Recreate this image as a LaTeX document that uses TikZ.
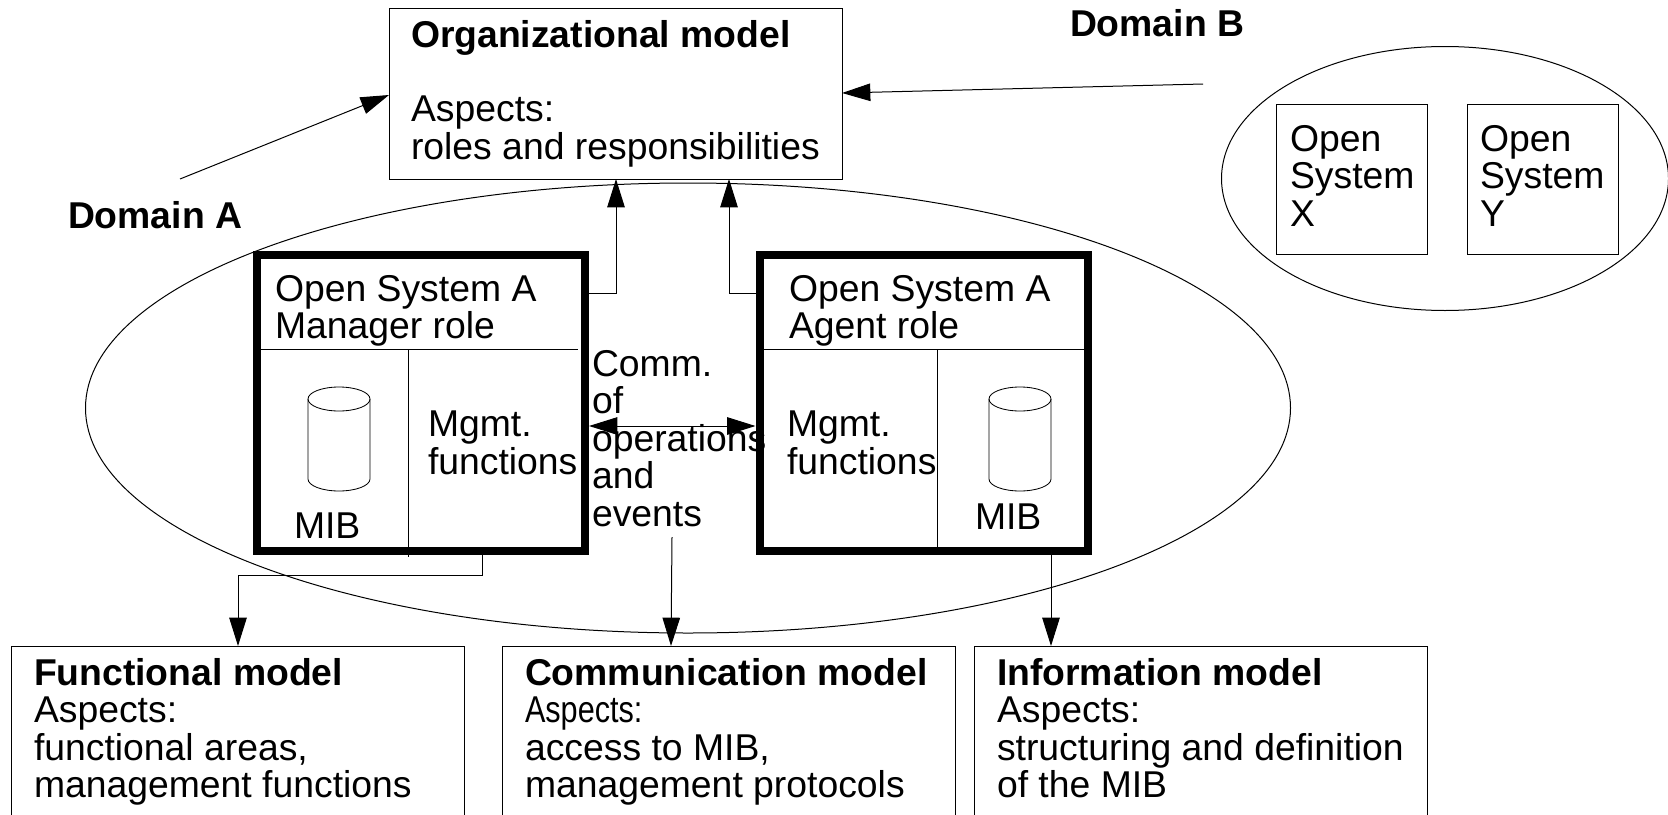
\documentclass[tikz,border=0pt]{standalone}
\usepackage{fontspec}
\setmainfont{Liberation Sans}
\usetikzlibrary{arrows.meta,shapes.geometric}
\def\u{0.6pt}
\tikzset{
    >={Triangle[length=17pt,width=10.5pt]},
    every path/.style={line width=0.6pt},
    box/.style={rectangle, draw, inner sep=0pt, outer sep=0pt},
    rolebox/.style={rectangle, draw, line width=4.8pt, inner sep=0pt, minimum width=328*\u, minimum height=296*\u},
    osbox/.style={box, minimum width=151*\u, minimum height=150*\u},
    modelbox/.style={box, minimum width=453*\u, minimum height=184*\u},
    domainoval/.style={ellipse, draw, inner sep=0pt, outer sep=0pt},
    mibcyl/.pic={
        \draw[line width=0.5pt] (0,-40) ellipse (31 and 12);
        \draw[line width=0.5pt] (-31,-40) -- (-31,40) arc (180:0:31 and 12) -- (31,-40);
    },
    txt/.style={anchor=north west, inner sep=0pt, outer sep=0pt, align=left, font=\fontsize{22.4}{22.5}\selectfont},
}
\begin{document}
\begin{tikzpicture}[x=\u, y=-\u]
    \useasboundingbox (0,0) rectangle (1668,814);
    % domains
    \node(doma) [domainoval, minimum width=1205*\u, minimum height=450*\u] at (688,408) {};
    \node(domb) [domainoval, minimum width=447*\u, minimum height=264*\u] at (1445,178.5) {};
    \node(domatxt) [txt] at (68,201) {\bfseries Domain A};
    \node(dombtxt) [txt] at (1070,9) {\bfseries Domain B};
    % models
    \node(org) [box, minimum width=453*\u, minimum height=171*\u] at (615.5,93.5) {};
    \node(func) [modelbox] at (237.5,738) {};
    \node(comm) [modelbox] at (729,738) {};
    \node(info) [modelbox] at (1201,738) {};
    \node(orgtxt) [txt] at (411,20) {\bfseries Organizational model\\[22.3pt]Aspects:\\roles and responsibilities};
    \node(functxt) [txt] at (34,658) {\bfseries Functional model\\Aspects:\\functional areas,\\management functions};
    \node(commtxt) [txt] at (525,658) {\bfseries Communication model\\\scalebox{0.82}[1]{Aspects:}\\access to MIB,\\management protocols};
    \node(infotxt) [txt] at (997,658) {\bfseries Information model\\Aspects:\\structuring and definition\\of the MIB};
    % open systems in domain B
    \node(osx) [osbox] at (1352,179) {};
    \node(osy) [osbox] at (1542.5,179) {};
    \node(osxtxt) [txt] at (1290,125) {Open\\System\\X};
    \node(osytxt) [txt] at (1480,125) {Open\\System\\Y};
    % open systems in domain A
    \node(mgr) [rolebox] at (421,403) {};
    \node(agt) [rolebox] at (923.5,403) {};
    \draw (261,349) -- (578,349);
    \draw (408,349) -- (408,557);
    \draw (763,349) -- (1084,349);
    \draw (937,349) -- (937,548);
    \node(mgrtxt) [txt] at (275,275) {Open System A\\Manager role};
    \node(agttxt) [txt] at (789,275) {Open System A\\Agent role};
    \node(mgrfn) [txt] at (428,411) {Mgmt.\\functions};
    \node(agtfn) [txt] at (787,411) {Mgmt.\\functions};
    \pic(mib1) at (339,439) {mibcyl};
    \pic(mib2) at (1020,439) {mibcyl};
    \node(mib1txt) [txt] at (294,513) {MIB};
    \node(mib2txt) [txt] at (975,504) {MIB};
    \node(commop) [txt] at (592,350) {Comm.\\of\\operations\\and\\events};
    % connectors
    \coordinate (a1) at (180,179);
    \coordinate (b1) at (1203,84);
    \coordinate (c1) at (672,537);
    \draw[->] (a1) -- (org.west |- 0,95);
    \draw[->] (b1) -- (org.east |- 0,93);
    \draw[->] (mgr.east |- 0,293) -| (616,0 |- org.south);
    \draw[->] (agt.west |- 0,293) -| (729,0 |- org.south);
    \draw[<->] (mgr.east |- 0,426) -- (agt.west |- 0,426);
    \draw[->] (mgr.south -| 482,0) |- (238,575) -- (238,0 |- func.north);
    \draw[->] (c1) -- (671,0 |- comm.north);
    \draw[->] (agt.south -| 1051,0) -- (1051,0 |- info.north);
\end{tikzpicture}
\end{document}
